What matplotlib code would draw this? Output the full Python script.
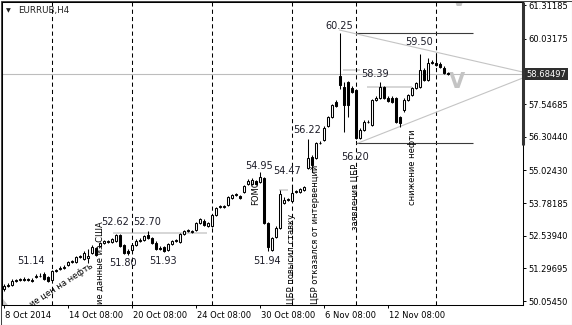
import numpy as np
import matplotlib
matplotlib.use("Agg")
from matplotlib import pyplot as plt
from matplotlib.patches import Rectangle, Polygon
import matplotlib.transforms as mtransforms

# EURRUB H4 candles (bar 0 = 8 Oct 2014)
opens = [50.51, 50.63, 50.66, 50.82, 50.85, 50.89, 50.89, 50.85, 50.97, 51.01,
         51.08, 50.97, 50.85, 51.20, 51.27, 51.31, 51.42, 51.54, 51.54, 51.73,
         51.65, 51.69, 51.88, 52.07, 52.15, 52.26, 52.30, 52.30, 52.34, 52.57,
         52.18, 51.96, 51.99, 52.18, 52.34, 52.37, 52.57, 52.45, 52.26, 52.07,
         52.11, 51.99, 52.22, 52.34, 52.30, 52.60, 52.72, 52.68, 52.76, 53.02,
         53.10, 52.91, 52.91, 53.33, 53.64, 53.64, 53.71, 53.97, 54.09, 54.05,
         54.20, 54.50, 54.50, 54.62, 54.58, 54.73, 53.02, 51.99, 52.49, 52.83,
         53.79, 53.90, 53.86, 54.20, 54.20, 54.28, 55.11, 55.53, 55.49, 56.06,
         56.18, 56.71, 57.05, 57.62, 58.62, 58.20, 58.39, 58.16, 58.08, 56.25,
         56.56, 56.86, 56.75, 57.70, 57.77, 58.20, 57.77, 57.77, 57.77, 57.05,
         57.32, 57.70, 57.89, 58.16, 58.20, 58.84, 58.46, 59.11, 59.11, 59.07,
         58.92, 58.73]
highs = [50.70, 50.74, 50.89, 50.89, 50.93, 50.97, 50.93, 50.93, 51.08, 51.12,
         51.14, 51.01, 51.23, 51.27, 51.38, 51.42, 51.58, 51.61, 51.77, 51.80,
         51.96, 52.03, 52.18, 52.11, 52.30, 52.37, 52.37, 52.45, 52.62, 52.60,
         52.22, 52.03, 52.22, 52.41, 52.45, 52.57, 52.70, 52.49, 52.34, 52.15,
         52.15, 52.26, 52.37, 52.41, 52.64, 52.76, 52.79, 52.76, 53.06, 53.21,
         53.17, 53.06, 53.36, 53.64, 53.71, 53.71, 54.05, 54.13, 54.17, 54.09,
         54.47, 54.69, 54.73, 54.66, 54.95, 54.77, 53.06, 52.49, 52.91, 54.28,
         54.01, 53.97, 54.47, 54.28, 54.35, 54.43, 56.22, 55.61, 56.10, 56.14,
         56.71, 57.09, 57.54, 57.70, 60.25, 58.39, 58.42, 58.23, 58.12, 56.63,
         56.94, 56.94, 57.73, 57.85, 58.39, 58.23, 57.85, 57.85, 57.81, 57.09,
         57.77, 57.92, 58.20, 58.39, 59.44, 58.92, 59.29, 59.22, 59.50, 59.15,
         58.99, 58.76]
lows = [50.44, 50.59, 50.63, 50.78, 50.82, 50.82, 50.82, 50.78, 50.93, 50.97,
        50.85, 50.78, 50.82, 51.16, 51.23, 51.27, 51.38, 51.50, 51.50, 51.69,
        51.61, 51.50, 51.84, 51.77, 52.11, 52.22, 52.26, 52.26, 52.30, 52.11,
        51.85, 51.80, 51.92, 52.15, 52.30, 52.34, 52.41, 52.22, 51.99, 51.99,
        51.93, 51.96, 52.18, 52.30, 52.26, 52.57, 52.68, 52.64, 52.72, 52.98,
        52.91, 52.87, 52.87, 53.29, 53.60, 53.60, 53.67, 53.94, 54.05, 53.94,
        54.17, 54.47, 54.47, 54.47, 54.54, 52.98, 51.94, 51.96, 52.45, 52.79,
        53.75, 53.86, 53.82, 54.17, 54.17, 54.24, 55.07, 54.96, 55.45, 56.02,
        56.14, 56.67, 57.01, 57.43, 58.12, 56.48, 57.05, 57.96, 56.20, 56.21,
        56.52, 56.82, 56.71, 57.66, 57.73, 57.73, 57.62, 57.58, 56.82, 56.67,
        57.24, 57.66, 57.85, 58.12, 58.16, 58.43, 58.43, 59.07, 58.99, 58.92,
        58.69, 58.65]
closes = [50.63, 50.66, 50.82, 50.84, 50.89, 50.87, 50.87, 50.83, 51.01, 51.02,
          50.89, 50.82, 51.20, 51.23, 51.31, 51.35, 51.54, 51.56, 51.73, 51.75,
          51.88, 51.77, 52.11, 51.80, 52.26, 52.34, 52.33, 52.41, 52.57, 52.15,
          51.88, 51.88, 52.18, 52.34, 52.37, 52.53, 52.45, 52.26, 52.03, 52.05,
          51.95, 52.22, 52.34, 52.36, 52.60, 52.72, 52.74, 52.70, 53.02, 53.17,
          52.95, 53.02, 53.33, 53.60, 53.66, 53.67, 54.01, 54.09, 54.11, 53.97,
          54.43, 54.62, 54.66, 54.50, 54.77, 53.02, 52.11, 52.45, 52.83, 54.13,
          53.90, 53.92, 54.17, 54.22, 54.31, 54.39, 55.49, 55.23, 56.06, 56.08,
          56.63, 57.05, 57.51, 57.47, 58.27, 57.51, 57.51, 58.00, 56.25, 56.56,
          56.86, 56.88, 57.70, 57.77, 58.20, 57.77, 57.66, 57.62, 56.86, 56.82,
          57.70, 57.89, 58.16, 58.35, 58.84, 58.46, 59.11, 59.13, 59.03, 58.95,
          58.73, 58.685]

last_price = 58.68497
price_ticks = [61.31185, 60.03175, 57.54685, 56.30440, 55.02430,
               53.78185, 52.53940, 51.29695, 50.05450]
date_ticks = [0, 16, 32, 48, 64, 80, 96]
date_labels = ["8 Oct 2014", "14 Oct 08:00", "20 Oct 08:00", "24 Oct 08:00",
               "30 Oct 08:00", "6 Nov 08:00", "12 Nov 08:00"]

# vertical news lines (bar index)
event_bars = [12, 32, 52, 72, 88, 108]

# price labels: (bar, price position, text)
price_labels = [(7.0, 51.58, "51.14"), (27.9, 53.06, "52.62"), (35.9, 53.06, "52.70"),
                (30.0, 51.50, "51.80"), (40.0, 51.58, "51.93"), (64.0, 55.19, "54.95"),
                (71.0, 55.00, "54.47"), (66.0, 51.58, "51.94"), (76.0, 56.56, "56.22"),
                (83.9, 60.51, "60.25"), (92.9, 58.69, "58.39"), (88.0, 55.53, "56.20"),
                (104.0, 59.90, "59.50")]

fig = plt.figure(figsize=(5.72, 3.25), dpi=100)
ax = fig.add_axes([2/572, 20/325, 521/572, 303/325])
ax.set_xlim(-0.375, 129.875)
ax.set_ylim(49.903, 61.426)

x = np.arange(len(opens))
o = np.array(opens); h = np.array(highs); l = np.array(lows); c = np.array(closes)
up = c >= o

# candles
ax.vlines(x, l, h, color='black', lw=0.75, zorder=3)
ax.bar(x[up], c[up] - o[up], bottom=o[up], width=0.5, color='white',
       edgecolor='black', lw=0.75, zorder=4)
ax.bar(x[~up], c[~up] - o[~up], bottom=o[~up], width=0.5, color='black',
       edgecolor='black', lw=0.75, zorder=4)

# current price line
ax.axhline(last_price, color='#bdbdbd', lw=0.8, zorder=1)

# event lines
for b in event_bars:
    ax.axvline(b, color='black', lw=0.75, linestyle=(0, (4, 3)), zorder=2)

# light grey level marks
ax.hlines([52.64, 54.28, 58.84, 58.20], [27.4, 68.9, 84.9, 90.9], [50.9, 71.1, 89.1, 102.0],
          color='#d6d6d6', lw=1.4, zorder=1)

# range lines and triangle
ax.hlines([60.25, 56.08], 88, 117.4, color='#3a3a3a', lw=0.8, zorder=2)
ax.plot([84, 129.9], [60.36, 58.76], color='#c4c4c4', lw=0.8, zorder=2)
ax.plot([88.6, 129.9], [56.06, 58.54], color='#c4c4c4', lw=0.8, zorder=2)

# arrows (V marks)
ax.text(113.25, 58.40, "V", color='#c4c4c4', fontsize=15, fontweight='bold',
        ha='center', va='center', zorder=2, clip_on=True)
ax.text(113.9, 61.27, "V", color='#c4c4c4', fontsize=15, fontweight='bold',
        ha='center', va='baseline', zorder=2, clip_on=True)

for bx, py, txt in price_labels:
    ax.text(bx, py, txt, fontsize=7, color='#1c1c28', ha='center', va='center', zorder=5)

# news texts (the first two are cut by the bottom of the chart in the original)
tk = dict(fontsize=6, color='black', zorder=5, clip_on=True)
ax.text(22.4, 51.35, "ие цен на нефть", rotation=33, rotation_mode='anchor',
        ha='right', va='baseline', **tk)
ax.text(24.1, 49.94, "ие данные из США", rotation=90, ha='center', va='bottom', **tk)
ax.text(63.0, 54.66, "FOMC", rotation=90, ha='center', va='top', **tk)
ax.text(72.1, 49.94, "ЦБР повысил ставку", rotation=90, ha='center', va='bottom', **tk)
ax.text(78.1, 49.94, "ЦБР отказался от интервенций", rotation=90, ha='center', va='bottom', **tk)
ax.text(87.9, 55.27, "заявления ЦБР", rotation=90, ha='center', va='top', **tk)
ax.text(102.25, 56.56, "снижение нефти", rotation=90, ha='center', va='top', **tk)

# axes styling
for s in ax.spines.values():
    s.set_linewidth(0.75)
    s.set_color('black')
ax.yaxis.tick_right()
ax.set_yticks(price_ticks)
ax.set_yticklabels([f"{v:.5f}" for v in price_ticks])
ax.set_xticks(date_ticks)
ax.set_xticklabels(date_labels)
ax.tick_params(axis='both', labelsize=6, length=2.5, width=0.7, color='black', pad=1.5)
offset = mtransforms.ScaledTranslation(1.5/100, 0, fig.dpi_scale_trans)
for lab in ax.get_xticklabels():
    lab.set_ha('left')
    lab.set_transform(lab.get_transform() + offset)

# bar on the right edge of the plot
ax.plot([1, 1], [1, 0.528], transform=ax.transAxes, color='#333333', lw=2.2,
        solid_capstyle='butt', clip_on=False, zorder=6)
# small grey corner triangle
ax.add_patch(Polygon([(0, 0), (0, 6/303), (5/521, 0)], closed=True, transform=ax.transAxes,
                     color='#c8c8c8', zorder=1))

# last price marker on the scale
ax.annotate(f"{last_price:.5f}", xy=(1, last_price), xycoords=('axes fraction', 'data'),
            xytext=(2.5, 0), textcoords='offset points', ha='left', va='center',
            color='white', fontsize=6,
            bbox=dict(boxstyle='square,pad=0.22', fc='#2e2e2e', ec='none'))

# title
fig.text(6/572, 1 - 10.5/325, "▼", fontsize=4.5, color='#202020', va='center')
fig.text(18/572, 1 - 10.5/325, "EURRUB,H4", fontsize=6.3, color='#202020', va='center')

# outer frame
fig.patches.append(Rectangle((0.5/572, 0.5/325), 571/572, 324/325, transform=fig.transFigure,
                             fill=False, edgecolor='#444444', lw=0.75))

fig.savefig("out.png", dpi=100, facecolor='white')
